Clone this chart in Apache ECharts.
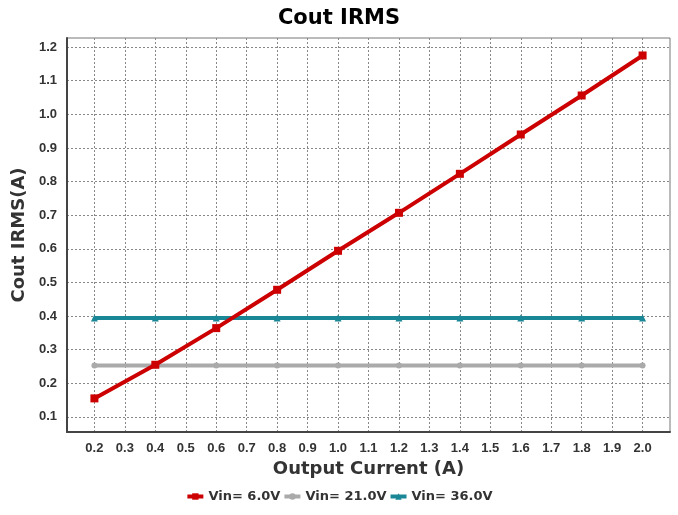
<!DOCTYPE html>
<html>
<head>
<meta charset="utf-8">
<script src="https://cdn.jsdelivr.net/npm/echarts@6/dist/echarts.min.js"></script>
<style>
  html, body { margin: 0; padding: 0; background: #fff; }
  #chart { width: 678px; height: 515px; }
</style>
</head>
<body>
<div id="chart"></div>
<script>
// data
const current = [0.2, 0.4, 0.6, 0.8, 1.0, 1.2, 1.4, 1.6, 1.8, 2.0];
const vin6 = [0.155, 0.255, 0.364, 0.478, 0.594, 0.707, 0.823, 0.940, 1.056, 1.175];
const vin21 = [0.253, 0.253, 0.253, 0.253, 0.253, 0.253, 0.253, 0.253, 0.253, 0.253];
const vin36 = [0.394, 0.394, 0.394, 0.394, 0.394, 0.394, 0.394, 0.394, 0.394, 0.394];
const xTicks = [0.2, 0.3, 0.4, 0.5, 0.6, 0.7, 0.8, 0.9, 1.0, 1.1, 1.2, 1.3, 1.4, 1.5, 1.6, 1.7, 1.8, 1.9, 2.0];
const yTicks = [0.1, 0.2, 0.3, 0.4, 0.5, 0.6, 0.7, 0.8, 0.9, 1.0, 1.1, 1.2];

const wide = '"DejaVu Sans", Verdana, sans-serif';
const narrow = '"Liberation Sans", Arial, sans-serif';
const pairs = ys => current.map((x, i) => [x, ys[i]]);

const chart = echarts.init(document.getElementById('chart'));

const mkSeries = (name, ys, color, symbol, size, z) => ({
  name: name,
  type: 'line',
  z: z,
  data: pairs(ys),
  symbol: symbol,
  symbolSize: size,
  lineStyle: { color: color, width: 4 },
  itemStyle: { color: color },
  animation: false
});

chart.setOption({
  title: {
    text: 'Cout IRMS',
    left: 'center',
    top: 3,
    textStyle: { fontFamily: wide, fontSize: 21, fontWeight: 'bold', color: '#000' }
  },
  legend: {
    bottom: 7,
    left: 'center',
    itemWidth: 16,
    itemHeight: 8,
    itemGap: 2,
    lineStyle: { width: 4 },
    textStyle: { fontFamily: wide, fontSize: 13, fontWeight: 'bold', color: '#333' },
    data: ['Vin= 6.0V', 'Vin= 21.0V', 'Vin= 36.0V']
  },
  grid: {
    left: 67, right: 8, top: 38, bottom: 83,
    show: true,
    borderColor: '#777',
    borderWidth: 1
  },
  xAxis: {
    type: 'value',
    min: 0.11,
    max: 2.09,
    name: 'Output Current (A)',
    nameLocation: 'middle',
    nameGap: 28,
    nameTextStyle: { fontFamily: wide, fontSize: 18, fontWeight: 'bold', color: '#333' },
    axisLine: { show: true, onZero: false, lineStyle: { color: '#444', width: 2 } },
    axisTick: { show: false, customValues: xTicks },
    axisLabel: {
      customValues: xTicks,
      formatter: v => v.toFixed(1),
      margin: 10,
      fontFamily: narrow, fontSize: 13, fontWeight: 'bold', color: '#333'
    },
    splitLine: { show: true, lineStyle: { color: '#888', type: [2, 2], width: 1 } }
  },
  yAxis: {
    type: 'value',
    min: 0.055,
    max: 1.227,
    name: 'Cout IRMS(A)',
    nameLocation: 'middle',
    nameGap: 35,
    nameTextStyle: { fontFamily: wide, fontSize: 18, fontWeight: 'bold', color: '#333' },
    axisLine: { show: true, onZero: false, lineStyle: { color: '#444', width: 2 } },
    axisTick: { show: false, customValues: yTicks },
    axisLabel: {
      customValues: yTicks,
      formatter: v => v.toFixed(1),
      margin: 10,
      fontFamily: narrow, fontSize: 13, fontWeight: 'bold', color: '#333'
    },
    splitLine: { show: true, lineStyle: { color: '#888', type: [2, 2], width: 1 } }
  },
  series: [
    mkSeries('Vin= 6.0V', vin6, '#cc0000', 'rect', 8, 4),
    mkSeries('Vin= 21.0V', vin21, '#aaaaaa', 'circle', 6, 2),
    mkSeries('Vin= 36.0V', vin36, '#1a8796', 'triangle', 7, 3)
  ]
});
</script>
</body>
</html>
